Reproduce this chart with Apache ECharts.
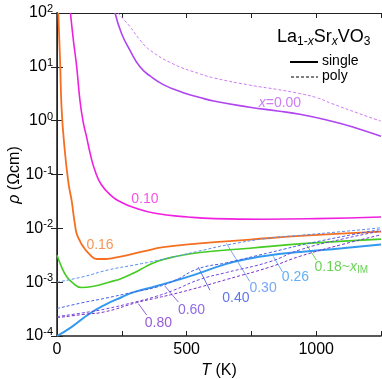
<!DOCTYPE html>
<html>
<head>
<meta charset="utf-8">
<script src="https://cdn.jsdelivr.net/npm/echarts@6/dist/echarts.min.js"></script>
<style>
  html, body { margin: 0; padding: 0; background: #fff; }
  #main { width: 382px; height: 379px; }
</style>
</head>
<body>
<div id="main"></div>
<script>
// T in K, lg = log10(rho / Ωcm)
var t000s = [224, 249, 281, 320, 359, 410, 487, 551, 609, 744, 850, 937, 1060, 1150, 1250];
var lg000s = [2.0, 1.62, 1.31, 1.0, 0.83, 0.67, 0.52, 0.43, 0.36, 0.25, 0.18, 0.12, -0.01, -0.13, -0.29];
var t000p = [235, 281, 320, 359, 450, 551, 609, 744, 850, 930, 1000, 1059, 1161, 1250];
var lg000p = [2.0, 1.75, 1.5, 1.31, 1.05, 0.87, 0.79, 0.66, 0.58, 0.51, 0.43, 0.32, 0.14, -0.01];
var t010 = [52, 63, 76, 88, 100, 114, 130, 146, 170, 211, 250, 288, 378, 506, 609, 800, 1000, 1250];
var lg010 = [2.0, 1.5, 1.0, 0.4, 0.0, -0.3, -0.65, -0.92, -1.18, -1.4, -1.52, -1.6, -1.72, -1.79, -1.82, -1.83, -1.82, -1.79];
var t016 = [5, 12, 18, 30, 44, 57, 63, 70, 76, 90, 101, 125, 153, 190, 230, 333, 410, 551, 744, 937, 1250];
var lg016 = [2.0, 1.1, 0.2, -0.55, -1.15, -1.5, -1.72, -1.95, -2.1, -2.25, -2.34, -2.48, -2.57, -2.57, -2.54, -2.43, -2.35, -2.28, -2.21, -2.14, -2.06];
var t018 = [0, 18, 35, 57, 95, 146, 200, 249, 300, 339, 384, 450, 551, 744, 963, 1250];
var lg018 = [-2.5, -2.72, -2.88, -3.0, -3.1, -3.07, -3.0, -2.93, -2.82, -2.72, -2.62, -2.53, -2.45, -2.37, -2.28, -2.2];
var t026 = [0, 57, 121, 185, 249, 300, 378, 450, 532, 654, 744, 821, 937, 1100, 1250];
var lg026 = [-4.0, -3.83, -3.6, -3.42, -3.28, -3.18, -3.08, -2.98, -2.86, -2.66, -2.56, -2.5, -2.44, -2.37, -2.3];
var t030 = [0, 100, 200, 300, 384, 551, 654, 821, 937, 1100, 1250];
var lg030 = [-3.0, -2.9, -2.77, -2.68, -2.6, -2.42, -2.31, -2.18, -2.13, -2.06, -1.99];
var t040 = [0, 100, 185, 300, 378, 450, 545, 654, 821, 1000, 1250];
var lg040 = [-3.49, -3.38, -3.3, -3.18, -3.1, -2.98, -2.75, -2.64, -2.45, -2.25, -2.02];
var t060 = [0, 100, 185, 300, 378, 450, 551, 654, 821, 937, 1100, 1250];
var lg060 = [-3.64, -3.57, -3.5, -3.37, -3.27, -3.15, -2.95, -2.82, -2.62, -2.4, -2.2, -2.05];
var t080 = [0, 100, 185, 307, 378, 450, 560, 654, 821, 937, 1100, 1250];
var lg080 = [-3.66, -3.6, -3.55, -3.38, -3.3, -3.22, -3.08, -2.95, -2.72, -2.52, -2.3, -2.12];

// curve labels and their leader lines
var labelTexts = ['{i|x}=0.00', '0.10', '0.16', '0.18~{i|x}{sub|IM}', '0.26', '0.30', '0.40', '0.60', '0.80'];
var labelT = [860, 339, 166, 1097, 920, 795, 690, 519, 391];
var labelLg = [0.32, -1.46, -2.31, -2.72, -2.91, -3.12, -3.30, -3.52, -3.76];
var labelColors = ['#c05cf2', '#f028e0', '#f47a2a', '#44c82a', '#3d9cf0', '#5a90f0', '#3a52e6', '#7046e0', '#7c32cc'];
var leaderT0 = [963, 834, 654, 545, 416, 314];
var leaderLg0 = [-2.31, -2.52, -2.28, -2.72, -3.07, -3.40];
var leaderT1 = [1001, 870, 744, 590, 468, 346];
var leaderLg1 = [-2.59, -2.81, -2.99, -3.15, -3.37, -3.61];
var leaderColors = ['#44c82a', '#3d9cf0', '#5a90f0', '#3a52e6', '#7046e0', '#7c32cc'];

function pts(ts, lgs) {
  return ts.map(function (t, i) { return [t, Math.pow(10, lgs[i])]; });
}

var curves = [
  { t: t000s, lg: lg000s, color: '#b044f0', width: 1.6, dash: 'solid' },
  { t: t000p, lg: lg000p, color: '#cc7cf5', width: 1, dash: [3, 2] },
  { t: t010, lg: lg010, color: '#f020e0', width: 1.6, dash: 'solid' },
  { t: t016, lg: lg016, color: '#f47020', width: 1.8, dash: 'solid' },
  { t: t018, lg: lg018, color: '#44cc22', width: 1.6, dash: 'solid' },
  { t: t026, lg: lg026, color: '#3399ee', width: 2, dash: 'solid' },
  { t: t030, lg: lg030, color: '#5b90f0', width: 1, dash: [3, 2] },
  { t: t040, lg: lg040, color: '#4a5ee8', width: 1, dash: [3, 2] },
  { t: t060, lg: lg060, color: '#7048e0', width: 1, dash: [3, 2] },
  { t: t080, lg: lg080, color: '#7a30c8', width: 1, dash: [3, 2] }
];

var series = [];
curves.forEach(function (c) {
  series.push({
    type: 'line',
    data: pts(c.t, c.lg),
    showSymbol: false,
    symbol: 'none',
    smooth: 0.5,
    clip: true,
    lineStyle: { color: c.color, width: c.width, type: c.dash },
    z: 3
  });
});

leaderT0.forEach(function (t, i) {
  series.push({
    type: 'line',
    data: [[t, Math.pow(10, leaderLg0[i])], [leaderT1[i], Math.pow(10, leaderLg1[i])]],
    symbol: 'none',
    lineStyle: { color: leaderColors[i], width: 0.8 },
    z: 2
  });
});

var font = 'Liberation Sans, Arial, sans-serif';

series.push({
  type: 'scatter',
  symbolSize: 1,
  itemStyle: { color: 'rgba(0,0,0,0)' },
  data: labelTexts.map(function (txt, i) {
    return {
      value: [labelT[i], Math.pow(10, labelLg[i])],
      label: {
        show: true,
        position: 'inside',
        formatter: txt,
        color: labelColors[i],
        fontSize: 14,
        fontFamily: font,
        rich: {
          i: { fontStyle: 'italic', fontSize: 14, fontFamily: font, color: labelColors[i] },
          sub: { fontSize: 10, padding: [6, 0, 0, 0], fontFamily: font, color: labelColors[i] }
        }
      }
    };
  }),
  z: 5
});

var axisCol = '#222';

var option = {
  animation: false,
  backgroundColor: '#fff',
  grid: { left: 57, right: 1, top: 13, bottom: 43, containLabel: false, outerBoundsMode: 'none' },
  xAxis: [{
    type: 'value',
    position: 'bottom',
    min: 0,
    max: 1250,
    interval: 250,
    splitLine: { show: false },
    axisLine: { lineStyle: { color: axisCol, width: 1.5 } },
    axisTick: { inside: true, length: 5, lineStyle: { color: axisCol } },
    axisLabel: {
      color: '#000', fontSize: 16, fontFamily: font, margin: 6,
      formatter: function (v) { return v % 500 === 0 ? String(v) : ''; }
    },
    name: '{i|T} (K)',
    nameLocation: 'middle',
    nameGap: 24,
    nameTextStyle: {
      color: '#000', fontSize: 16, fontFamily: font,
      rich: { i: { fontStyle: 'italic', fontSize: 16, fontFamily: font } }
    }
  }, {
    type: 'value',
    position: 'top',
    min: 0,
    max: 1250,
    interval: 250,
    splitLine: { show: false },
    axisLine: { lineStyle: { color: axisCol, width: 1 } },
    axisTick: { inside: true, length: 5, lineStyle: { color: axisCol } },
    axisLabel: { show: false }
  }],
  yAxis: [{
    type: 'log',
    logBase: 10,
    min: 1e-4,
    max: 100,
    position: 'left',
    splitLine: { show: false },
    axisLine: { lineStyle: { color: '#555', width: 2 } },
    axisTick: { inside: true, length: 6, lineStyle: { color: axisCol } },
    axisLabel: {
      color: '#000', fontSize: 16, fontFamily: font, margin: 4,
      formatter: function (v) {
        return '{b|10}{s|' + Math.round(Math.log10(v)) + '}';
      },
      rich: {
        b: { fontSize: 16, fontFamily: font, color: '#000' },
        s: { fontSize: 11, fontFamily: font, color: '#000', padding: [0, 0, 8, 0] }
      }
    }
  }, {
    type: 'log',
    logBase: 10,
    min: 1e-4,
    max: 100,
    position: 'right',
    splitLine: { show: false },
    axisLine: { lineStyle: { color: axisCol, width: 1 } },
    axisTick: { inside: true, length: 6, lineStyle: { color: axisCol } },
    axisLabel: { show: false }
  }],
  graphic: [
    {
      type: 'text', x: 15, y: 175, rotation: Math.PI / 2, z: 10,
      style: {
        text: '{i|ρ} (Ωcm)', fill: '#000', fontSize: 16, fontFamily: font,
        align: 'center', verticalAlign: 'middle',
        rich: { i: { fontStyle: 'italic', fontSize: 16, fontFamily: font } }
      }
    },
    {
      type: 'text', left: 277, top: 28, z: 10,
      style: {
        text: 'La{sb|1-}{si|x}Sr{si|x}VO{sb|3}',
        fill: '#000', fontSize: 18, fontFamily: font,
        rich: {
          sb: { fontSize: 12, fontFamily: font, padding: [9, 0, 0, 0] },
          si: { fontSize: 12, fontFamily: font, fontStyle: 'italic', padding: [9, 0, 0, 0] }
        }
      }
    },
    { type: 'line', z: 10, shape: { x1: 290, y1: 62, x2: 318, y2: 62 }, style: { stroke: '#000', lineWidth: 2 } },
    { type: 'text', left: 322, top: 54, z: 10, style: { text: 'single', fill: '#000', fontSize: 14, fontFamily: font } },
    { type: 'line', z: 10, shape: { x1: 291, y1: 77, x2: 318, y2: 77 }, style: { stroke: '#000', lineWidth: 1, lineDash: [3, 2] } },
    { type: 'text', left: 322, top: 69, z: 10, style: { text: 'poly', fill: '#000', fontSize: 14, fontFamily: font } }
  ],
  series: series
};

var chart = echarts.init(document.getElementById('main'));
chart.setOption(option);
</script>
</body>
</html>
